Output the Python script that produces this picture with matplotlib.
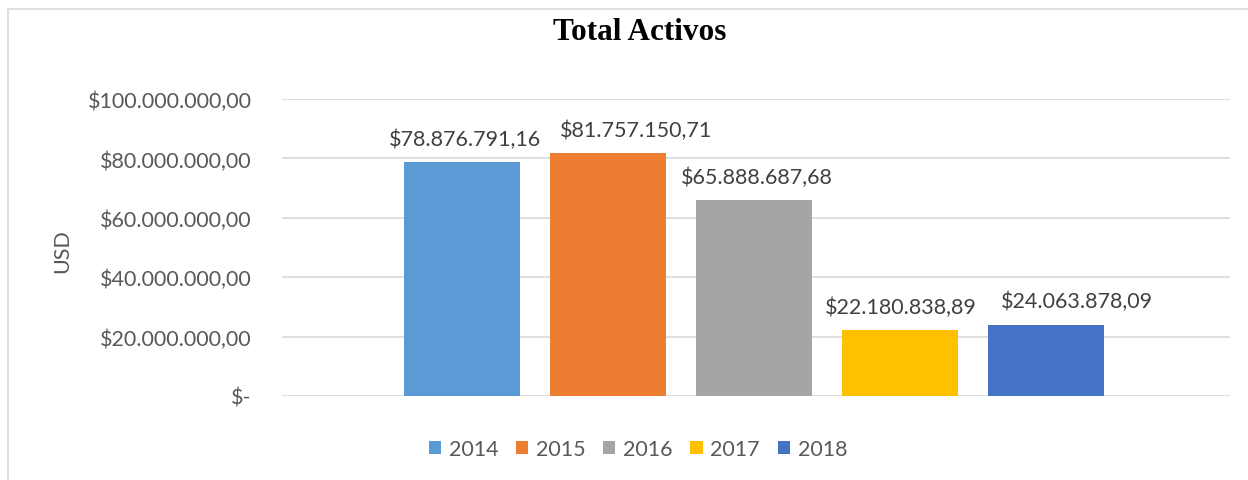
import matplotlib.pyplot as plt
from matplotlib.patches import Rectangle, Patch

years = ["2014", "2015", "2016", "2017", "2018"]
values = [78876791.16, 81757150.71, 65888687.68, 22180838.89, 24063878.09]
colors = ["#5B9BD5", "#ED7D31", "#A5A5A5", "#FFC000", "#4472C4"]
y_ticks = [0, 20e6, 40e6, 60e6, 80e6, 100e6]

# desplazamiento horizontal de las etiquetas (Excel las corre para que no choquen)
label_dx = [3, 28, 3, 1, 31]


def money(v):
    if v == 0:
        return "$-"
    s = f"{v:,.2f}"
    s = s.replace(",", "X").replace(".", ",").replace("X", ".")
    return "$" + s


plt.rcParams["font.family"] = ["Lato", "DejaVu Sans"]

W, H = 1248, 481
fig = plt.figure(figsize=(W / 100, H / 100), dpi=100)
fig.patches.append(Rectangle((8 / W, -0.1), 1.2, 1 - 10 / H + 0.1,
                             transform=fig.transFigure, fill=False,
                             edgecolor="#D9D9D9", linewidth=1.2))

ax = fig.add_axes([282 / W, 84 / H, (1230 - 282) / W, (397 - 100) / H])
pos = list(range(len(years)))
bars = ax.bar(pos, values, width=0.79, color=colors, zorder=3)

for x, v, dx in zip(pos, values, label_dx):
    ax.annotate(money(v), xy=(x, v), xytext=(dx, 17),
                textcoords="offset pixels", ha="center", va="baseline",
                fontsize=15.5, color="#404040")

ax.set_xlim(-1.233, 5.26)
ax.set_ylim(0, 100e6)
ax.set_yticks(y_ticks)
ax.set_yticklabels([money(t) for t in y_ticks])
ax.set_xticks([])
ax.tick_params(axis="y", length=0, pad=22, labelsize=15.5, labelcolor="#595959")
ax.yaxis.grid(True, color="#D9D9D9", linewidth=1.2, zorder=0)
for s in ax.spines.values():
    s.set_visible(False)

fig.text(62 / W, 1 - 251 / H, "USD", rotation=90, ha="center", va="center",
         fontsize=15.5, color="#595959")
fig.text(640 / W, 1 - 33 / H, "Total Activos", ha="center", va="center",
         fontsize=22.5, fontweight="bold", family="Liberation Serif")

handles = [Patch(facecolor=c, label=y) for c, y in zip(colors, years)]
fig.legend(handles=handles, loc="center", bbox_to_anchor=(638 / W, 1 - 450 / H),
           ncol=5, frameon=False, fontsize=15.5, handlelength=0.56,
           handleheight=0.56, handletextpad=0.37, columnspacing=0.82,
           labelcolor="#595959", borderpad=0, borderaxespad=0)

fig.savefig("out.png", dpi=100)
